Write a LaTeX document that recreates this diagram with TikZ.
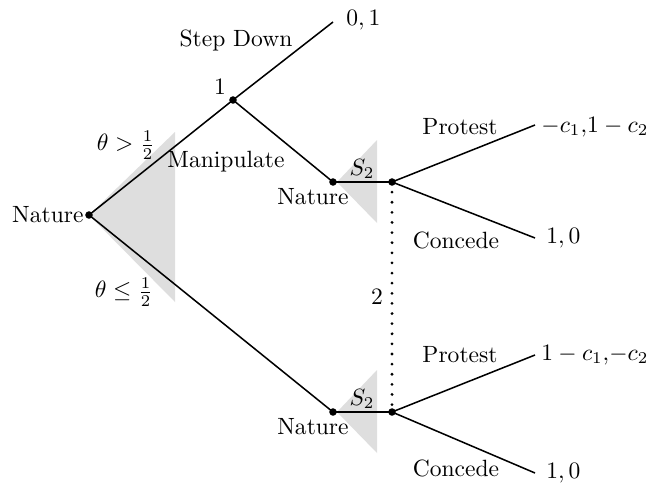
\documentclass[tikz,border=0pt]{standalone}
\begin{document}
\begin{tikzpicture}[x=0.425pt,y=-0.425pt,
  dotnode/.style={circle,fill=black,inner sep=0pt,minimum size=3.2pt},
  branch/.style={line width=0.65pt},
  shade/.style={fill=black!13,draw=none},
  lbl/.style={inner sep=0pt},
  pay/.style={inner sep=0pt,anchor=west},
  infoset/.style={line width=1.3pt,line cap=round,dash pattern=on 0pt off 4.3pt}]
\useasboundingbox (0,0) rectangle (654,483);
% shaded triangles
\fill[shade] (89,215) -- (175,132) -- (175,302) -- cycle;
\fill[shade] (337,182) -- (377,140) -- (377,223) -- cycle;
\fill[shade] (337,412) -- (377,370) -- (377,453) -- cycle;
% decision points
\node[dotnode] (root) at (89,215) {};
\node[dotnode] (p1) at (233,100) {};
\node[dotnode] (nU) at (333,182) {};
\node[dotnode] (sU) at (392,182) {};
\node[dotnode] (nL) at (333,412) {};
\node[dotnode] (sL) at (392,412) {};
\coordinate (sd) at (333,22);
\coordinate (pU) at (535,125);
\coordinate (cU) at (535,238);
\coordinate (pL) at (535,355);
\coordinate (cL) at (535,473);
% branches
\draw[branch] (root.center) -- (p1.center);
\draw[branch] (root.center) -- (nL.center);
\draw[branch] (p1.center) -- (sd);
\draw[branch] (p1.center) -- (nU.center);
\draw[branch] (nU.center) -- (sU.center);
\draw[branch] (nL.center) -- (sL.center);
\draw[branch] (sU.center) -- (pU);
\draw[branch] (sU.center) -- (cU);
\draw[branch] (sL.center) -- (pL);
\draw[branch] (sL.center) -- (cL);
\draw[infoset] (sU.center) -- (sL.center);
% labels
\node[lbl,anchor=east] (tRoot) at (84,215) {Nature};
\node[lbl] (tGt) at (126,145) {$\theta>\frac12$};
\node[lbl] (tLe) at (124,292) {$\theta\le\frac12$};
\node[lbl] (t1) at (220,87) {1};
\node[lbl] (tSD) at (236,40) {Step Down};
\node[lbl] (tMan) at (226,162) {Manipulate};
\node[lbl] (tNU) at (313,197) {Nature};
\node[lbl] (tNL) at (313,427) {Nature};
\node[lbl] (tS2U) at (362,169) {$S_2$};
\node[lbl] (tS2L) at (362,399) {$S_2$};
\node[lbl] (t2) at (377,297) {2};
\node[lbl] (tPU) at (460,127) {Protest};
\node[lbl] (tCU) at (456,240) {Concede};
\node[lbl] (tPL) at (460,355) {Protest};
\node[lbl] (tCL) at (456,468) {Concede};
\node[pay] (oSD) at (346,20) {$0,1$};
\node[pay] (oPU) at (541,127) {$-c_1{,}1-c_2$};
\node[pay] (oCU) at (546,238) {$1,0$};
\node[pay] (oPL) at (541,355) {$1-c_1{,}{-c_2}$};
\node[pay] (oCL) at (546,473) {$1,0$};
\end{tikzpicture}
\end{document}
